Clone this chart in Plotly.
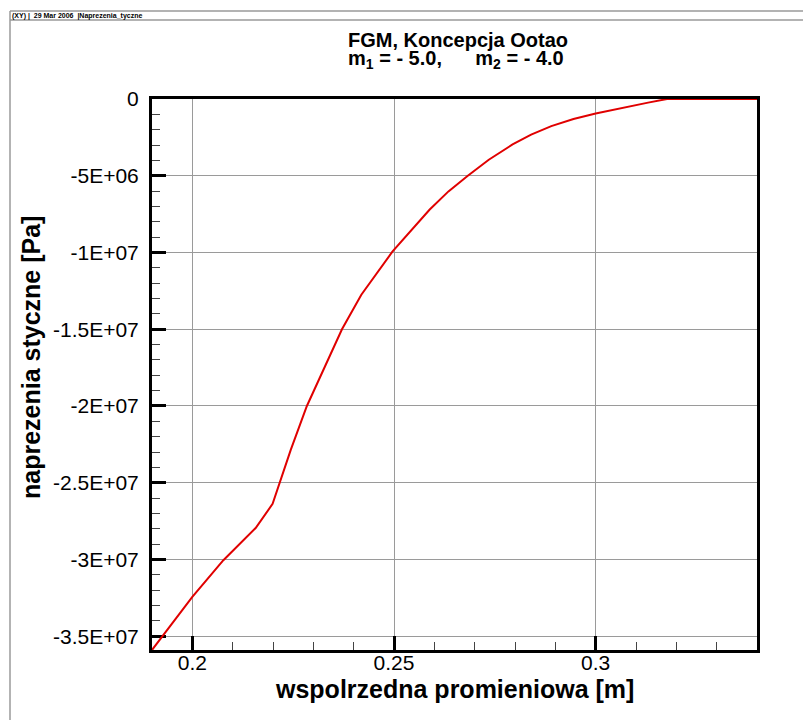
import plotly.graph_objects as go

# ---- data ----
r_m = [0.19, 0.1969, 0.2, 0.2077, 0.2157, 0.2199, 0.2244, 0.2284, 0.2324,
       0.2371, 0.2419, 0.2496, 0.2588, 0.2635, 0.2683, 0.2735, 0.2794,
       0.284, 0.289, 0.2945, 0.3, 0.3083, 0.313, 0.3177, 0.34]
sigma_pa = [-3.59e7, -3.349e7, -3.244e7, -3.005e7, -2.795e7, -2.638e7,
            -2.286e7, -2.0e7, -1.765e7, -1.5e7, -1.275e7, -0.995e7, -0.722e7,
            -0.602e7, -0.5e7, -0.396e7, -0.296e7, -0.232e7, -0.177e7,
            -0.130e7, -0.095e7, -0.047e7, -0.0235e7, 0.0, 0.0]

x_tickvals = [0.2, 0.25, 0.3]
x_ticktext = ["0.2", "0.25", "0.3"]
y_tickvals = [0, -5e6, -1e7, -1.5e7, -2e7, -2.5e7, -3e7, -3.5e7]
y_ticktext = ["0", "-5E+06", "-1E+07", "-1.5E+07", "-2E+07", "-2.5E+07",
              "-3E+07", "-3.5E+07"]

NB = "\u00a0"
title1 = "FGM, Koncepcja Ootao"
title2 = "m<sub>1</sub> = - 5.0," + NB * 6 + "m<sub>2</sub> = - 4.0"
xtitle = "wspolrzedna promieniowa [m]"
ytitle = "naprezenia styczne [Pa]"
header = ("(XY)" + NB + "|" + NB + NB + "29 Mar 2006" + NB + NB
          + "|Naprezenia_tyczne")

# ---- layout geometry (pixels) ----
W, H = 803, 720
L, R, T, B = 152, 757, 99, 650
PW, PH = R - L, B - T


def px(x):
    return (x - L) / PW


def py(y):
    return (B - y) / PH


FONT = "Liberation Sans, Arial, sans-serif"

fig = go.Figure()
fig.add_trace(go.Scatter(
    x=r_m, y=sigma_pa, mode="lines",
    line=dict(color="#e00000", width=2),
    cliponaxis=False, showlegend=False, hoverinfo="skip"))

axis_common = dict(
    showline=True, linecolor="black", linewidth=3, mirror=True,
    showgrid=True, gridcolor="#9a9a9a", gridwidth=1.3,
    zeroline=False, ticks="inside", tickcolor="black", tickwidth=3,
    ticklen=14, layer="below traces",
    tickfont=dict(family=FONT, size=21, color="black"),
)

fig.update_xaxes(
    range=[0.19, 0.34], tickmode="array", tickvals=x_tickvals,
    ticktext=x_ticktext, ticklabelstandoff=-8,
    minor=dict(ticks="inside", ticklen=8, tickwidth=1, tickcolor="#444",
               dtick=0.01, tick0=0.0, showgrid=False),
    **axis_common)
fig.update_yaxes(
    range=[-3.59e7, 0], tickmode="array", tickvals=y_tickvals,
    ticktext=y_ticktext, ticklabelstandoff=6,
    minor=dict(ticks="inside", ticklen=8, tickwidth=1, tickcolor="#444",
               dtick=1e6, tick0=0.0, showgrid=False),
    **axis_common)

annotations = [
    dict(text="<b>%s</b>" % title1, x=px(458), y=py(40), xref="paper",
         yref="paper", xanchor="center", yanchor="middle", showarrow=False,
         font=dict(family=FONT, size=20, color="black")),
    dict(text="<b>%s</b>" % title2, x=px(456), y=py(59), xref="paper",
         yref="paper", xanchor="center", yanchor="middle", showarrow=False,
         font=dict(family=FONT, size=20, color="black")),
    dict(text="<b>%s</b>" % xtitle, x=px(454), y=py(689), xref="paper",
         yref="paper", xanchor="center", yanchor="middle", showarrow=False,
         font=dict(family=FONT, size=25, color="black")),
    dict(text="<b>%s</b>" % ytitle, x=px(31), y=py(358), xref="paper",
         yref="paper", xanchor="center", yanchor="middle", showarrow=False,
         textangle=-90, font=dict(family=FONT, size=25, color="black")),
    dict(text="<b>%s</b>" % header, x=px(10), y=py(15.5), xref="paper",
         yref="paper", xanchor="left", yanchor="middle", showarrow=False,
         font=dict(family=FONT, size=7, color="black")),
]

frame = "#9a9a9a"
shapes = [
    dict(type="line", xref="paper", yref="paper", x0=px(10), x1=px(803),
         y0=py(11), y1=py(11), line=dict(color=frame, width=1.5)),
    dict(type="line", xref="paper", yref="paper", x0=px(10), x1=px(803),
         y0=py(20), y1=py(20), line=dict(color=frame, width=1.5)),
    dict(type="line", xref="paper", yref="paper", x0=px(10), x1=px(10),
         y0=py(11), y1=py(720), line=dict(color=frame, width=1.5)),
]

fig.update_layout(
    width=W, height=H,
    margin=dict(l=L, r=W - R, t=T, b=H - B, pad=0),
    paper_bgcolor="white", plot_bgcolor="white",
    font=dict(family=FONT, color="black"),
    annotations=annotations, shapes=shapes,
)

fig.write_html("out.html")
